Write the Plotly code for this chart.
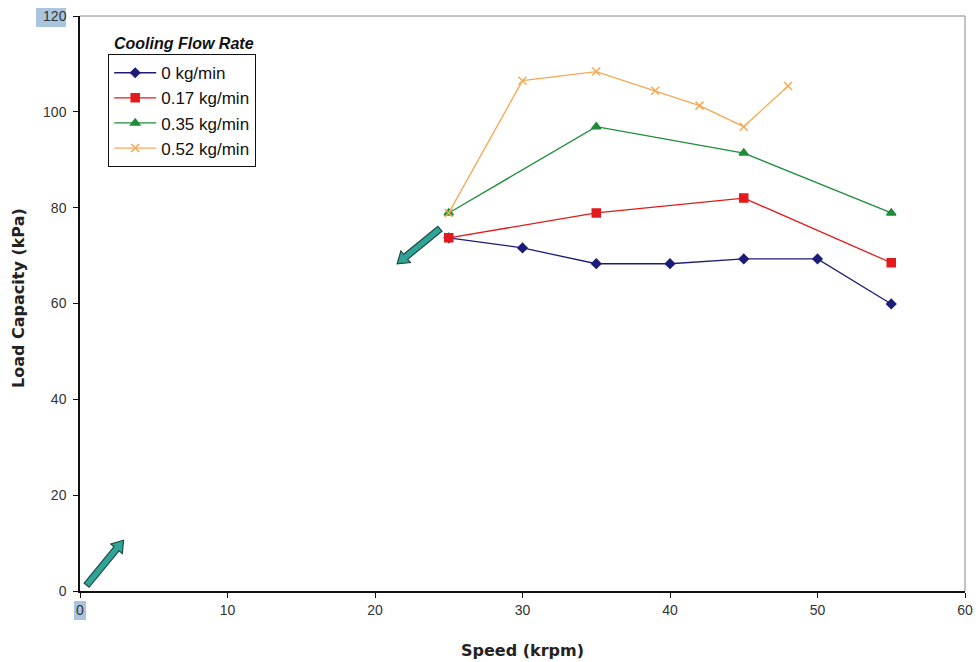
import math
import plotly.graph_objects as go

series_names = ["0 kg/min", "0.17 kg/min", "0.35 kg/min", "0.52 kg/min"]

speed_0 = [25, 30, 35, 40, 45, 50, 55]
load_0 = [73.7, 71.6, 68.3, 68.3, 69.3, 69.3, 59.9]

speed_17 = [25, 35, 45, 55]
load_17 = [73.7, 78.9, 82.0, 68.5]

speed_35 = [25, 35, 45, 55]
load_35 = [78.9, 96.9, 91.4, 78.9]

speed_52 = [25, 30, 35, 39, 42, 45, 48]
load_52 = [78.9, 106.5, 108.4, 104.4, 101.3, 96.9, 105.4]

x_ticks = [0, 10, 20, 30, 40, 50, 60]
y_ticks = [0, 20, 40, 60, 80, 100, 120]

# arrow annotations: (tail x, tail y) -> (head x, head y) in data units
arrow_tails = [(24.4, 75.6), (0.45, 1.2)]
arrow_heads = [(21.5, 68.3), (2.95, 10.6)]

colors = ["#1c1c78", "#e31a1c", "#1e8c3a", "#f5a856"]
symbols = ["diamond", "square", "triangle-up", "x-thin-open"]
sizes = [7, 8, 8, 8]

W, H = 980, 662
ML, MR, MT, MB = 80, 15, 16, 71
PW, PH = W - ML - MR, H - MT - MB
XR, YR = (0, 60), (0, 120)
sx = PW / (XR[1] - XR[0])
sy = PH / (YR[1] - YR[0])


def px_x(p):
    return (p - ML) / PW


def px_y(p):
    return (H - MB - p) / PH


fig = go.Figure()
data = [(speed_0, load_0), (speed_17, load_17), (speed_35, load_35), (speed_52, load_52)]
for i, ((xs, ys), name, c, s, sz) in enumerate(zip(data, series_names, colors, symbols, sizes)):
    fig.add_trace(go.Scatter(
        x=xs, y=ys, name=name, mode="lines+markers", legendgroup=f"g{i}",
        line=dict(color=c, width=1.3),
        marker=dict(color=c, symbol=s, size=sz, line=dict(color=c, width=1.5)),
    ))

font_family = "Liberation Sans, Arial, sans-serif"


def block_arrow(tail, head, shaft=3.2, headw=7.5, headl=11):
    # build polygon in pixel space, convert back to data units
    tx, ty = tail[0] * sx, tail[1] * sy
    hx, hy = head[0] * sx, head[1] * sy
    dx, dy = hx - tx, hy - ty
    L = math.hypot(dx, dy)
    ux, uy = dx / L, dy / L
    nx, ny = -uy, ux
    bx, by = hx - ux * headl, hy - uy * headl
    pts = [
        (tx + nx * shaft, ty + ny * shaft),
        (bx + nx * shaft, by + ny * shaft),
        (bx + nx * headw, by + ny * headw),
        (hx, hy),
        (bx - nx * headw, by - ny * headw),
        (bx - nx * shaft, by - ny * shaft),
        (tx - nx * shaft, ty - ny * shaft),
    ]
    path = "M " + " L ".join(f"{px / sx:.4f},{py / sy:.4f}" for px, py in pts) + " Z"
    return path


for t, h in zip(arrow_tails, arrow_heads):
    fig.add_shape(type="path", xref="x", yref="y", path=block_arrow(t, h),
                  fillcolor="#2fa597", line=dict(color="#1f4a46", width=1.2))

# legend title
fig.add_annotation(x=px_x(112), y=px_y(43), xref="paper", yref="paper",
                   xanchor="left", yanchor="middle", showarrow=False,
                   text="<b><i>Cooling Flow Rate</i></b>",
                   font=dict(family=font_family, size=16, color="#111111"))

# axis titles
fig.add_annotation(x=0.5, y=px_y(650), xref="paper", yref="paper",
                   xanchor="center", yanchor="middle", showarrow=False,
                   text="<b>Speed (krpm)</b>",
                   font=dict(family="DejaVu Sans, sans-serif", size=16, color="#222222"))
fig.add_annotation(x=px_x(18), y=px_y(298), xref="paper", yref="paper",
                   xanchor="center", yanchor="middle", showarrow=False, textangle=-90,
                   text="<b>Load Capacity (kPa)</b>",
                   font=dict(family="DejaVu Sans, sans-serif", size=16, color="#222222"))

# highlight boxes behind "120" and x "0"
fig.add_shape(type="rect", xref="paper", yref="paper", x0=px_x(36), x1=px_x(66),
              y0=px_y(27), y1=px_y(8), fillcolor="#a9c6de",
              line=dict(width=0), layer="below")
fig.add_shape(type="rect", xref="paper", yref="paper", x0=px_x(74), x1=px_x(86),
              y0=px_y(620), y1=px_y(601), fillcolor="#a9c6de",
              line=dict(width=0), layer="below")

fig.update_layout(
    width=W, height=H,
    margin=dict(l=ML, r=MR, t=MT, b=MB, autoexpand=False),
    paper_bgcolor="white", plot_bgcolor="white",
    font=dict(family=font_family, size=13, color="#222222"),
    showlegend=True,
    legend=dict(x=px_x(108), y=px_y(54), xanchor="left", yanchor="top",
                bordercolor="#111111", borderwidth=1.2, bgcolor="white",
                font=dict(family=font_family, size=17, color="#111111"),
                tracegroupgap=0, itemwidth=42),
)
fig.update_xaxes(
    range=list(XR), tickvals=x_ticks, ticks="outside", ticklen=5, tickcolor="#111111",
    showline=True, linecolor="#111111", linewidth=1.5, showgrid=False, zeroline=False,
    automargin=False, tickfont=dict(size=14, color="#333333"),
)
fig.update_yaxes(
    range=list(YR), tickvals=y_ticks, ticks="outside", ticklen=5, tickcolor="#111111",
    showline=True, linecolor="#111111", linewidth=1.5, showgrid=False, zeroline=False,
    automargin=False, ticklabelstandoff=4, tickfont=dict(size=14, color="#333333"),
)
# top and right frame
fig.add_shape(type="line", xref="paper", yref="paper", x0=0, x1=1, y0=1, y1=1,
              line=dict(color="#888888", width=1))
fig.add_shape(type="line", xref="paper", yref="paper", x0=1, x1=1, y0=0, y1=1,
              line=dict(color="#888888", width=1))

fig.write_html("out.html")
